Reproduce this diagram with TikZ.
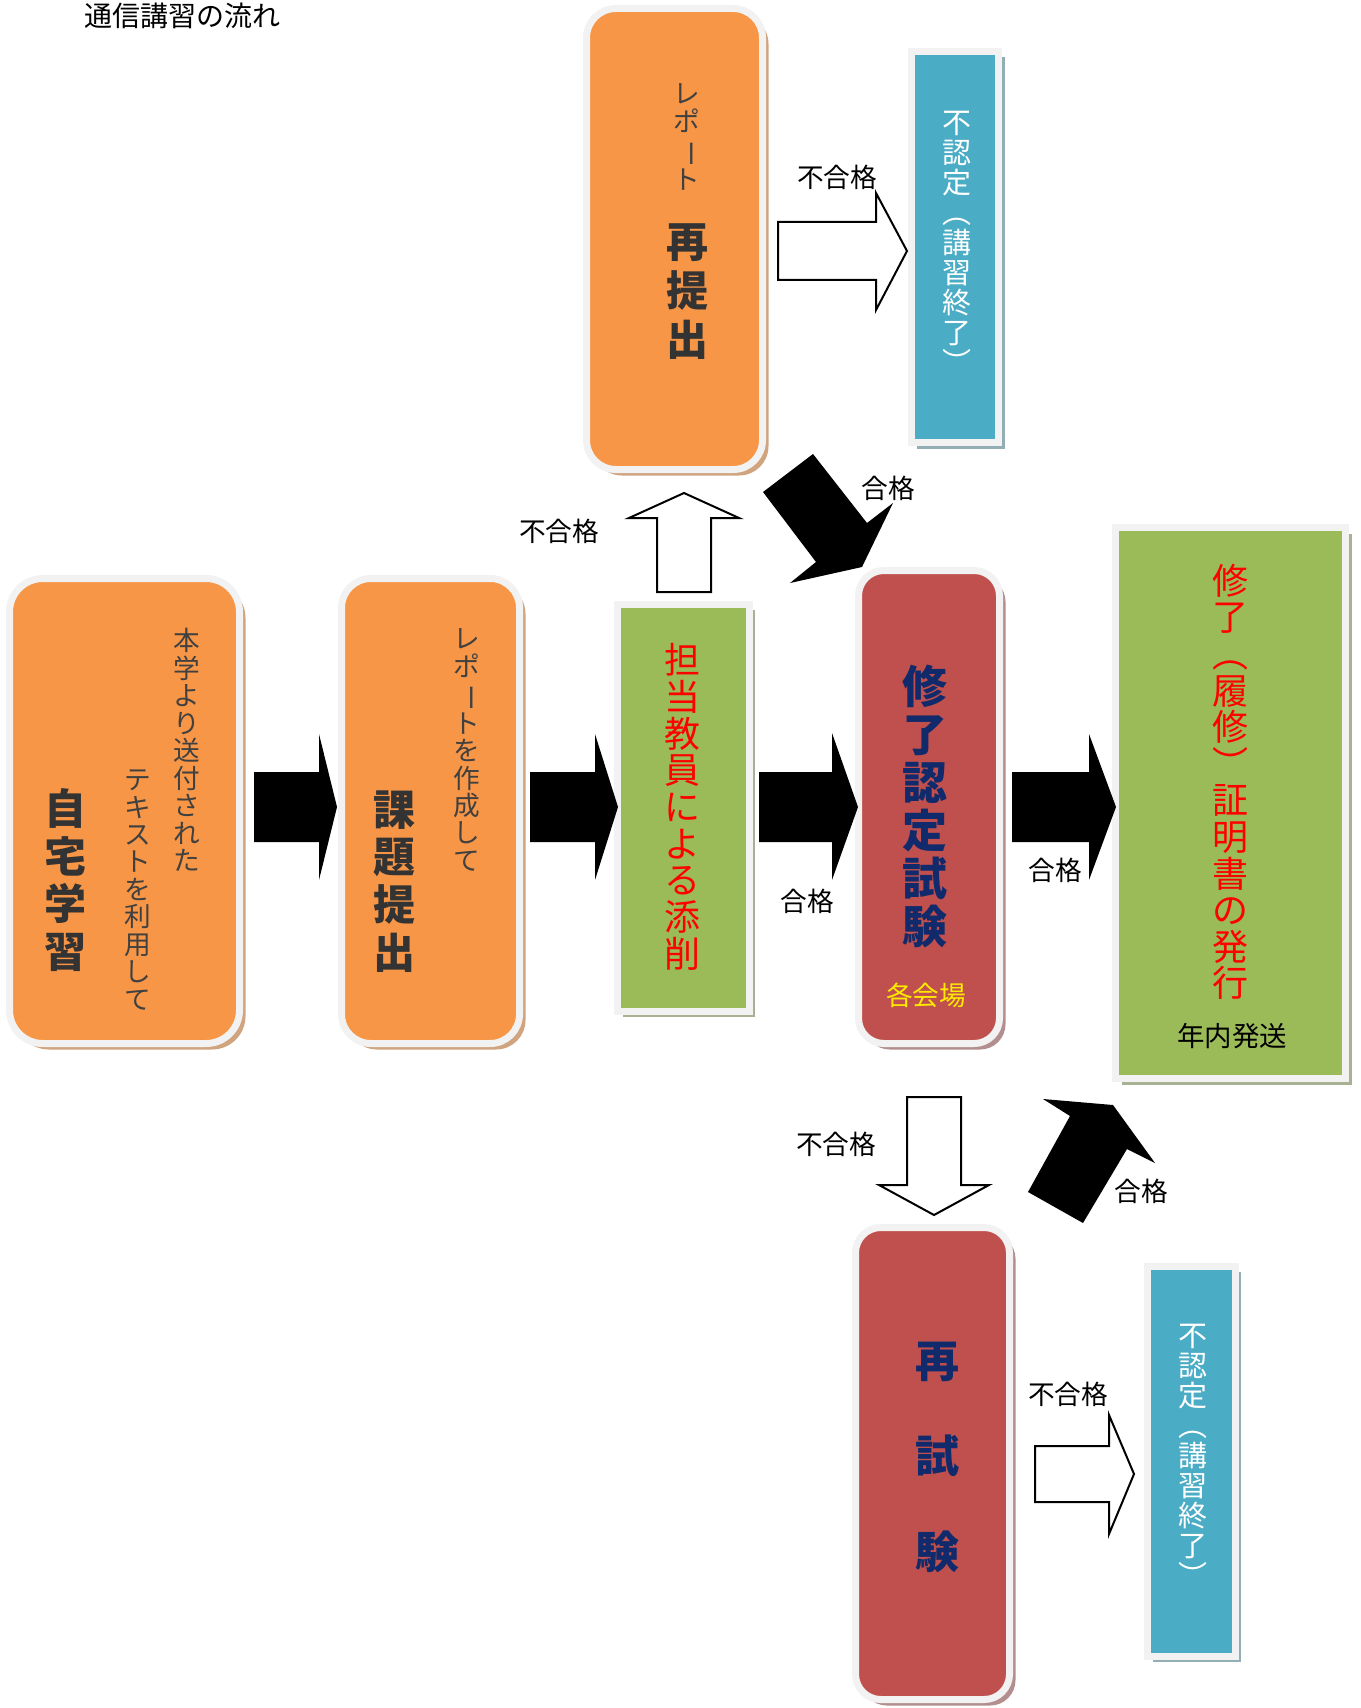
\documentclass[tikz,border=0pt]{standalone}
\usepackage{fontspec}
\usepackage{graphicx}
\usetikzlibrary{shadows}
\setmainfont{Noto Sans CJK JP}
\definecolor{orangefill}{HTML}{F79646}
\definecolor{boxborder}{HTML}{F2F2F2}
\definecolor{tanshadow}{HTML}{D0A47F}
\definecolor{redfill}{HTML}{C0504D}
\definecolor{redshadow}{HTML}{B38E8E}
\definecolor{greenfill}{HTML}{9BBB59}
\definecolor{greenshadow}{HTML}{A8B293}
\definecolor{bluefill}{HTML}{4BACC6}
\definecolor{blueshadow}{HTML}{93ADB5}
\definecolor{navytext}{HTML}{102A6B}
\definecolor{textgray}{HTML}{404040}
\definecolor{textdark}{HTML}{333333}
\definecolor{redtext}{HTML}{FF0000}
\definecolor{yellowtext}{HTML}{FFEA00}
\newcommand{\fs}[2]{\fontsize{#1pt}{#2pt}\selectfont}
\newcommand{\vbar}{\rotatebox[origin=c]{-90}{ー}}
\begin{document}
\begin{tikzpicture}[x=0.75pt,y=-0.75pt,
  vt/.style={align=center, inner sep=0pt},
  lbl/.style={inner sep=0pt, font=\fs{20}{24}, text=black},
  rbox/.style={draw=boxborder, line width=5.25pt, rounded corners=#1, inner sep=0pt},
  sbox/.style={draw=boxborder, line width=5.25pt, inner sep=0pt},
  shad/.style={drop shadow={opacity=1, fill=#1, shadow xshift=4.5pt, shadow yshift=-4.5pt}},
  solidarrow/.style={fill=black},
  hollowarrow/.style={draw=black, line width=1.5pt, fill=white, line join=miter},
]
\useasboundingbox (0,0) rectangle (1360,1708);

% title
\node[inner sep=0pt, font=\fs{21}{24}] (title) at (182,16) {通信講習の流れ};

% boxes
\node[rbox=25pt, fill=orangefill, shad=tanshadow, minimum width=172.5pt, minimum height=348.75pt] (home) at (124.5,811) {};
\node[rbox=22pt, fill=orangefill, shad=tanshadow, minimum width=133.5pt, minimum height=348.75pt] (submit) at (430.5,811) {};
\node[sbox, fill=greenfill, shad=greenshadow, minimum width=99pt, minimum height=305.25pt] (correct) at (683,807.5) {};
\node[rbox=19pt, fill=redfill, shad=redshadow, minimum width=105.75pt, minimum height=354.75pt] (exam) at (929,807) {};
\node[sbox, fill=greenfill, shad=greenshadow, minimum width=172.5pt, minimum height=413.25pt] (cert) at (1230.5,803) {};
\node[rbox=22pt, fill=orangefill, shad=tanshadow, minimum width=132pt, minimum height=345.75pt] (resubmit) at (674.5,239) {};
\node[sbox, fill=bluefill, shad=blueshadow, minimum width=65.6pt, minimum height=293.6pt] (fail1) at (955,247) {};
\node[rbox=19pt, fill=redfill, shad=redshadow, minimum width=115.5pt, minimum height=354pt] (reexam) at (932.5,1463.5) {};
\node[sbox, fill=bluefill, shad=blueshadow, minimum width=66pt, minimum height=292.5pt] (fail2) at (1191,1461) {};

% box texts
\node[vt, font=\fs{20}{20.6}, text=textgray] (home1) at (187,750) {本\\学\\よ\\り\\送\\付\\さ\\れ\\た};
\node[vt, font=\fs{20}{20.6}, text=textgray] (home2) at (138,890) {テ\\キ\\ス\\ト\\を\\利\\用\\し\\て};
\node[vt, font=\bfseries\fs{31.5}{35.8}, text=textdark] (home3) at (65,880) {自\\宅\\学\\習};

\node[vt, font=\fs{20}{20.6}, text=textgray] (sub1) at (467,750) {レ\\ポ\\\vbar\\ト\\を\\作\\成\\し\\て};
\node[vt, font=\bfseries\fs{31.5}{35.8}, text=textdark] (sub2) at (394,881.5) {課\\題\\提\\出};

\node[vt, font=\fs{20}{21}, text=textgray] (res1) at (687,137) {レ\\ポ\\\vbar\\ト};
\node[vt, font=\bfseries\fs{31.5}{36.5}, text=textdark] (res2) at (687,291.5) {再\\提\\出};

\node[vt, font=\fs{21.75}{22.5}, text=white] (fail1t) at (957,242) {不\\認\\定\\︵\\講\\習\\終\\了\\︶};
\node[vt, font=\fs{21.75}{22.5}, text=white] (fail2t) at (1193,1455) {不\\認\\定\\︵\\講\\習\\終\\了\\︶};

\node[vt, font=\fs{27}{27.5}, text=redtext] (corr1) at (682,806.7) {担\\当\\教\\員\\に\\よ\\る\\添\\削};

\node[vt, font=\bfseries\fs{33.75}{36}, text=navytext] (exam1) at (925,806.7) {修\\了\\認\\定\\試\\験};
\node[inner sep=0pt, font=\fs{20}{24}, text=yellowtext] (exam2) at (926,995) {各会場};

\node[vt, font=\fs{27}{27.45}, text=redtext] (cert1) at (1230,782) {修\\了\\︵\\履\\修\\︶\\証\\明\\書\\の\\発\\行};
\node[inner sep=0pt, font=\fs{20.6}{24}, text=black] (cert2) at (1232,1036) {年内発送};

\node[vt, font=\bfseries\fs{33}{71.6}, text=navytext] (reexam1) at (937,1457) {再\\試\\験};

% solid arrows (horizontal)
\fill[solidarrow] (254,772) -- (319,772) -- (319,734) -- (337,807) -- (319,880) -- (319,842) -- (254,842) -- cycle;
\fill[solidarrow] (530,772) -- (595,772) -- (595,734) -- (618,807) -- (595,880) -- (595,842) -- (530,842) -- cycle;
\fill[solidarrow] (759,772) -- (832,772) -- (832,733) -- (858,807) -- (832,880) -- (832,842) -- (759,842) -- cycle;
\fill[solidarrow] (1012,772) -- (1089,772) -- (1089,734) -- (1116,807) -- (1089,880) -- (1089,842) -- (1012,842) -- cycle;

% diagonal solid arrows
\fill[solidarrow] (813,454) -- (763,492) -- (816,562) -- (790,583) -- (862,567) -- (893,503) -- (867,523) -- cycle;
\fill[solidarrow] (1043,1099) -- (1070,1116) -- (1028,1192) -- (1083,1223) -- (1127,1149) -- (1155,1163) -- (1113,1105) -- cycle;

% hollow arrows
\draw[hollowarrow] (778,222) -- (876,222) -- (876,193) -- (907,251) -- (876,310) -- (876,280) -- (778,280) -- cycle;
\draw[hollowarrow] (657,592) -- (657,518) -- (629,518) -- (684,493) -- (739,518) -- (711,518) -- (711,592) -- cycle;
\draw[hollowarrow] (907,1097) -- (961,1097) -- (961,1185) -- (989,1185) -- (934,1215) -- (879,1185) -- (907,1185) -- cycle;
\draw[hollowarrow] (1035,1446) -- (1109,1446) -- (1109,1415) -- (1134,1474) -- (1109,1534) -- (1109,1502) -- (1035,1502) -- cycle;

% labels
\node[lbl] (l1) at (837,177) {不合格};
\node[lbl] (l2) at (888,488) {合格};
\node[lbl] (l3) at (559,531) {不合格};
\node[lbl] (l4) at (807,901) {合格};
\node[lbl] (l5) at (1055,870) {合格};
\node[lbl] (l6) at (836,1144) {不合格};
\node[lbl] (l7) at (1141,1191) {合格};
\node[lbl] (l8) at (1068,1394) {不合格};
\end{tikzpicture}
\end{document}
